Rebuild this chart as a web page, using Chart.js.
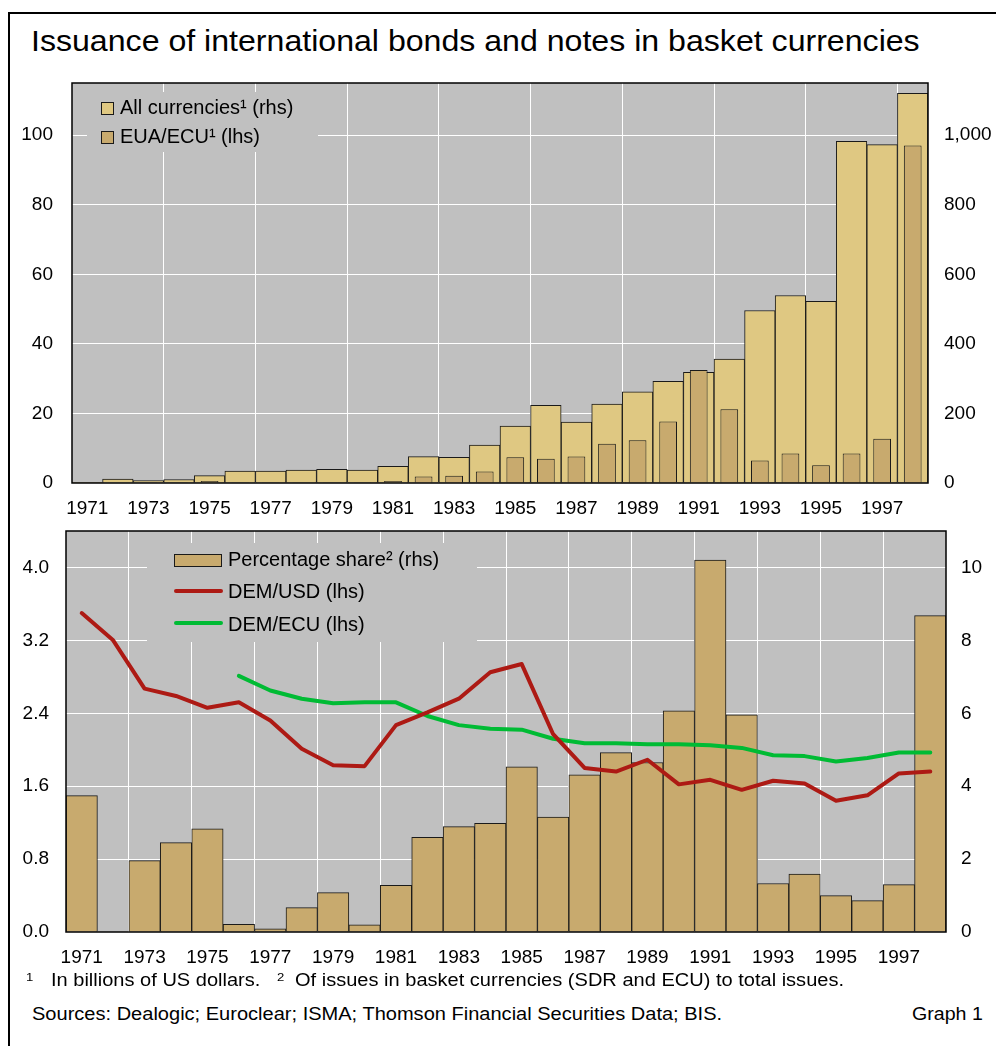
<!DOCTYPE html>
<html><head><meta charset="utf-8">
<script src="https://cdn.jsdelivr.net/npm/chart.js@4.4.0/dist/chart.umd.min.js"></script>
<style>
html,body{margin:0;padding:0;background:#fff;}
body{width:996px;height:1046px;position:relative;overflow:hidden;font-family:"Liberation Sans",Arial,sans-serif;}
.t{position:absolute;white-space:nowrap;transform-origin:0 0;line-height:1;color:#000;}
#frame{position:absolute;left:8px;top:12px;width:1000px;height:1100px;border-left:2px solid #000;border-top:2px solid #000;}
.cw{position:absolute;left:0;width:996px;height:460px;}
canvas{display:block;}
</style></head>
<body>
<div id="frame"></div>
<div class="t" style="left:31px;top:26.3px;font-size:30px;transform:scaleX(1.07)">Issuance of international bonds and notes in basket currencies</div>
<div class="cw" style="top:70px"><canvas id="c1" width="996" height="460"></canvas></div>
<div class="cw" style="top:520px"><canvas id="c2" width="996" height="460"></canvas></div>
<div class="t" style="left:26px;top:972.3px;font-size:11.5px;transform:scaleX(1.14)">1</div>
<div class="t" style="left:51px;top:971.9px;font-size:17.5px;transform:scaleX(1.145)">In billions of US dollars.</div>
<div class="t" style="left:277px;top:972.3px;font-size:11.5px;transform:scaleX(1.14)">2</div>
<div class="t" style="left:295px;top:971.9px;font-size:17.5px;transform:scaleX(1.145)">Of issues in basket currencies (SDR and ECU) to total issues.</div>
<div class="t" style="left:31.5px;top:1005.7px;font-size:17.5px;transform:scaleX(1.145)">Sources: Dealogic; Euroclear; ISMA; Thomson Financial Securities Data; BIS.</div>
<div class="t" style="left:912px;top:1005.7px;font-size:17.5px;transform:scaleX(1.12)">Graph 1</div>
<script>
// ---- data ----
const years = ['1971','1972','1973','1974','1975','1976','1977','1978','1979','1980','1981','1982','1983','1984','1985','1986','1987','1988','1989','1990','1991','1992','1993','1994','1995','1996','1997','1998'];
const allCurrencies = [2, 11, 7, 10, 21, 34, 34, 37, 39, 37, 48, 76, 74, 109, 164, 223, 175, 227, 262, 292, 318, 356, 496, 539, 522, 982, 973, 1120];
const euaEcu = [0, 0, 0.2, 0.2, 0.6, 0.1, 0.2, 0.2, 0.2, 0.2, 0.6, 1.9, 2.1, 3.3, 7.4, 7.0, 7.6, 11.3, 12.3, 17.7, 32.5, 21.2, 6.5, 8.5, 5.1, 8.5, 12.7, 97];
const percentageShare = [3.74, 0, 1.96, 2.45, 2.83, 0.21, 0.09, 0.67, 1.08, 0.2, 1.28, 2.6, 2.89, 2.98, 4.53, 3.15, 4.31, 4.92, 4.65, 6.07, 10.2, 5.96, 1.33, 1.59, 1.0, 0.86, 1.3, 8.68];
const demUsd = [3.50, 3.20, 2.67, 2.59, 2.46, 2.52, 2.32, 2.01, 1.83, 1.82, 2.27, 2.41, 2.56, 2.85, 2.94, 2.17, 1.80, 1.76, 1.89, 1.62, 1.67, 1.56, 1.66, 1.63, 1.44, 1.50, 1.74, 1.76];
const demEcu = [null, null, null, null, null, 2.81, 2.65, 2.56, 2.51, 2.52, 2.52, 2.37, 2.27, 2.23, 2.22, 2.12, 2.07, 2.07, 2.06, 2.06, 2.05, 2.02, 1.94, 1.93, 1.87, 1.91, 1.97, 1.97];
const topLeftTicks = {min: 0, max: 115, step: 20};
const topRightTicks = {min: 0, max: 1150, step: 200};
const botLeftTicks = {min: 0, max: 4.4, step: 0.8};
const botRightTicks = {min: 0, max: 11, step: 2};
const topLegend = ['All currencies\u00B9 (rhs)', 'EUA/ECU\u00B9 (lhs)'];
const botLegend = ['Percentage share\u00B2 (rhs)', 'DEM/USD (lhs)', 'DEM/ECU (lhs)'];

// ---- style ----
const FONT = '"Liberation Sans", Arial, sans-serif';
const tickFont = {family: FONT, size: 19};
const PLOT_BG = '#C0C0C0';
const LIGHT = '#DFC882';
const DARK = '#C8AA6E';
const RED = '#AD1A14';
const GREEN = '#00BB34';
const EDGE = '#1a1a1a';
const clear = 'rgba(0,0,0,0)';

Chart.defaults.font.family = FONT;
Chart.defaults.color = '#000';

const bgPlugin = {
  id: 'bg',
  beforeDraw(chart) {
    const {ctx, chartArea: a} = chart;
    ctx.save(); ctx.fillStyle = PLOT_BG;
    ctx.fillRect(a.left, a.top, a.right - a.left, a.bottom - a.top);
    ctx.restore();
  },
  afterDatasetsDraw(chart) {
    const {ctx, chartArea: a} = chart;
    ctx.save(); ctx.strokeStyle = '#000'; ctx.lineWidth = 1.5;
    ctx.strokeRect(a.left, a.top, a.right - a.left, a.bottom - a.top);
    ctx.restore();
  }
};

const topLegendPlugin = {
  id: 'topLegend',
  beforeDatasetsDraw(chart) {
    const {ctx, chartArea: a} = chart;
    const L = a.left, T = a.top;
    ctx.save();
    ctx.fillStyle = PLOT_BG; ctx.fillRect(L + 15, T + 9, 231, 60);
    const items = [[LIGHT, 19, 25], [DARK, 48, 54.5]];
    ctx.font = '20px ' + FONT; ctx.textBaseline = 'middle'; ctx.textAlign = 'left';
    items.forEach((it, i) => {
      ctx.fillStyle = it[0]; ctx.fillRect(L + 29, T + it[1], 13, 13);
      ctx.strokeStyle = EDGE; ctx.lineWidth = 1; ctx.strokeRect(L + 29.5, T + it[1] + 0.5, 12, 12);
      ctx.fillStyle = '#000'; ctx.fillText(topLegend[i], L + 48, T + it[2]);
    });
    ctx.restore();
  }
};

const botLegendPlugin = {
  id: 'botLegend',
  beforeDatasetsDraw(chart) {
    const {ctx, chartArea: a} = chart;
    const L = a.left, T = a.top;
    ctx.save();
    ctx.fillStyle = PLOT_BG; ctx.fillRect(L + 81, T + 12, 330, 99);
    ctx.fillStyle = DARK; ctx.fillRect(L + 108, T + 23, 48, 13);
    ctx.strokeStyle = EDGE; ctx.lineWidth = 1; ctx.strokeRect(L + 108.5, T + 23.5, 47, 12);
    ctx.lineCap = 'round'; ctx.lineWidth = 4;
    ctx.strokeStyle = RED; ctx.beginPath(); ctx.moveTo(L + 110, T + 60); ctx.lineTo(L + 155, T + 60); ctx.stroke();
    ctx.strokeStyle = GREEN; ctx.beginPath(); ctx.moveTo(L + 110, T + 92); ctx.lineTo(L + 155, T + 92); ctx.stroke();
    ctx.font = '20px ' + FONT; ctx.textBaseline = 'middle'; ctx.textAlign = 'left'; ctx.fillStyle = '#000';
    ctx.fillText(botLegend[0], L + 162, T + 29.8);
    ctx.fillText(botLegend[1], L + 162, T + 61.8);
    ctx.fillText(botLegend[2], L + 162, T + 94);
    ctx.restore();
  }
};

function xAxis(every, h) {
  return {
    type: 'category', offset: true,
    grid: {offset: true, drawTicks: false, lineWidth: 1,
      color: c => (c.index > 0 && c.index % every === 0) ? '#FFFFFF' : clear},
    border: {display: false},
    ticks: {autoSkip: false, maxRotation: 0, minRotation: 0, padding: 14, font: tickFont, color: '#000',
      callback: (v, i) => i % 2 === 0 ? years[i] : ''},
    afterFit: s => { s.height = h; s.paddingLeft = 0; s.paddingRight = 0; }
  };
}
function yAxis(pos, t, w, pad, grid, fmt) {
  return {
    type: 'linear', position: pos, min: t.min, max: t.max,
    grid: grid ? {drawTicks: false, lineWidth: 1, color: c => c.tick && c.tick.value > 0 ? '#FFFFFF' : clear}
               : {drawTicks: false, drawOnChartArea: false, color: clear},
    border: {display: false},
    ticks: {stepSize: t.step, includeBounds: false, padding: pad, font: tickFont, color: '#000', callback: fmt},
    afterFit: s => { s.width = w; s.paddingTop = 0; s.paddingBottom = 0; }
  };
}

new Chart(document.getElementById('c1'), {
  type: 'bar',
  data: {
    labels: years,
    datasets: [
      {label: topLegend[1], data: euaEcu, yAxisID: 'yL', backgroundColor: DARK, borderColor: EDGE, borderWidth: 1,
       grouped: false, barPercentage: 0.58, categoryPercentage: 1, order: 0},
      {label: topLegend[0], data: allCurrencies, yAxisID: 'yR', backgroundColor: LIGHT, borderColor: EDGE, borderWidth: 1,
       grouped: false, barPercentage: 1, categoryPercentage: 1, order: 1}
    ]
  },
  options: {
    responsive: false, animation: false, devicePixelRatio: 1,
    layout: {padding: {top: 13, left: 0, right: 0, bottom: 0}},
    plugins: {legend: {display: false}, tooltip: {enabled: false}},
    scales: {
      x: xAxis(3, 47),
      yL: yAxis('left', topLeftTicks, 72, 19, true, v => String(v)),
      yR: yAxis('right', topRightTicks, 68, 16, false, v => v.toLocaleString('en-US'))
    }
  },
  plugins: [bgPlugin, topLegendPlugin]
});

new Chart(document.getElementById('c2'), {
  data: {
    labels: years,
    datasets: [
      {type: 'line', label: botLegend[1], data: demUsd, yAxisID: 'yL', borderColor: RED, borderWidth: 4, pointRadius: 0,
       tension: 0, fill: false, borderJoinStyle: 'round', borderCapStyle: 'round', order: 0},
      {type: 'line', label: botLegend[2], data: demEcu, yAxisID: 'yL', borderColor: GREEN, borderWidth: 4, pointRadius: 0,
       tension: 0, fill: false, borderJoinStyle: 'round', borderCapStyle: 'round', order: 0},
      {type: 'bar', label: botLegend[0], data: percentageShare, yAxisID: 'yR', backgroundColor: DARK, borderColor: EDGE, borderWidth: 1,
       barPercentage: 1, categoryPercentage: 1, order: 1}
    ]
  },
  options: {
    responsive: false, animation: false, devicePixelRatio: 1,
    layout: {padding: {top: 11, left: 0, right: 0, bottom: 0}},
    plugins: {legend: {display: false}, tooltip: {enabled: false}},
    scales: {
      x: xAxis(2, 48),
      yL: yAxis('left', botLeftTicks, 66, 17, true, v => Number(v).toFixed(1)),
      yR: yAxis('right', botRightTicks, 50, 15, false, v => String(v))
    }
  },
  plugins: [bgPlugin, botLegendPlugin]
});
</script>
</body></html>
